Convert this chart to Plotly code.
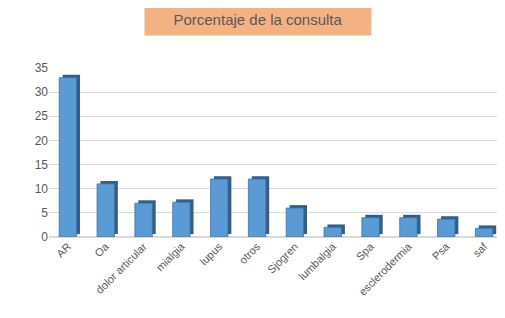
import plotly.graph_objects as go

categories = ["AR", "Oa", "dolor articular", "mialgia", "lupus", "otros",
              "Sjogren", "lumbalgia", "Spa", "esclerodermia", "Psa", "saf"]
values = [33, 11, 7, 7.2, 12, 12, 6, 2, 4, 4, 3.7, 1.8]
y_ticks = [0, 5, 10, 15, 20, 25, 30, 35]
title_text = "Porcentaje de la consulta"

W = 0.46
fig = go.Figure()
# darker side/depth of the bars
fig.add_trace(go.Bar(
    x=categories, y=values, base=0.6, width=W, offset=-W / 2 + 0.09,
    marker=dict(color="#2F5F8F", line=dict(width=0)), hoverinfo="skip",
))
# front face
fig.add_trace(go.Bar(
    x=categories, y=values, width=W, offset=-W / 2,
    marker=dict(color="#5B9BD5", line=dict(color="#41719C", width=0.8)),
))

fig.update_layout(
    width=505, height=318,
    margin=dict(l=41, r=10, t=60, b=89),
    barmode="overlay",
    showlegend=False,
    plot_bgcolor="white", paper_bgcolor="white",
    font=dict(family="Liberation Sans, Arial, sans-serif", size=11, color="#595959"),
    xaxis=dict(tickangle=-45, showgrid=False, showline=False, ticks="",
               tickfont=dict(size=11, color="#595959")),
    yaxis=dict(range=[0, 35], tickvals=y_ticks, showgrid=True, gridcolor="#D9D9D9",
               gridwidth=1, zeroline=True, zerolinecolor="#D9D9D9", showline=False,
               ticks="", tickfont=dict(size=12, color="#595959")),
    annotations=[dict(
        text=title_text, xref="paper", yref="paper", x=0.46, y=1.29,
        xanchor="center", yanchor="middle", showarrow=False,
        bgcolor="#F4B183", width=224, height=30,
        font=dict(size=15, color="#595959"),
    )],
)

fig.write_html("out.html")
